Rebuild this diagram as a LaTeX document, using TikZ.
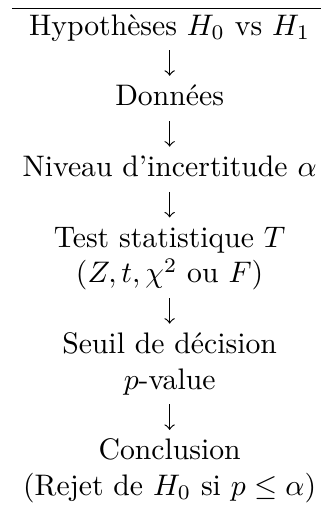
\documentclass[tikz,border=0pt]{standalone}
\usetikzlibrary{positioning}
\tikzset{
	etape/.style={anchor=base, align=center, inner sep=0pt, text height=6.94pt, text depth=1.94pt},
	% base = last line, so the box must reach up over the first one
	deuxlignes/.style={text height=18.86pt},
	fleche/.style={->, shorten >=3pt, shorten <=3pt},
}

\begin{document}
\begin{tikzpicture}[x=1pt,y=11.92pt]
	\useasboundingbox (-57.1,0.99) rectangle (51,-13.44);
	\draw (-53.1,0.74) -- (51,0.74);

	\node[etape] (hyp) at (0,0) {Hypothèses $H_0$ vs $H_1$};
	\node[etape] (donnees) at (0,-2) {Données};
	\node[etape] (niveau) at (0,-4) {Niveau d'incertitude $\alpha$};
	\node[etape,deuxlignes] (test) at (0,-7) {Test statistique $T$\\$(Z, t, \chi^2$ ou $F)$};
	\node[etape,deuxlignes] (seuil) at (0,-10) {Seuil de décision\\$p$-value};
	\node[etape,deuxlignes] (concl) at (0,-13) {Conclusion\\(Rejet de $H_0$ si $p \leq \alpha$)};

	\draw[fleche] (hyp) -- (donnees);
	\draw[fleche] (donnees) -- (niveau);
	\draw[fleche] (niveau) -- (test);
	\draw[fleche] (test) -- (seuil);
	\draw[fleche] (seuil) -- (concl);
\end{tikzpicture}
\end{document}
